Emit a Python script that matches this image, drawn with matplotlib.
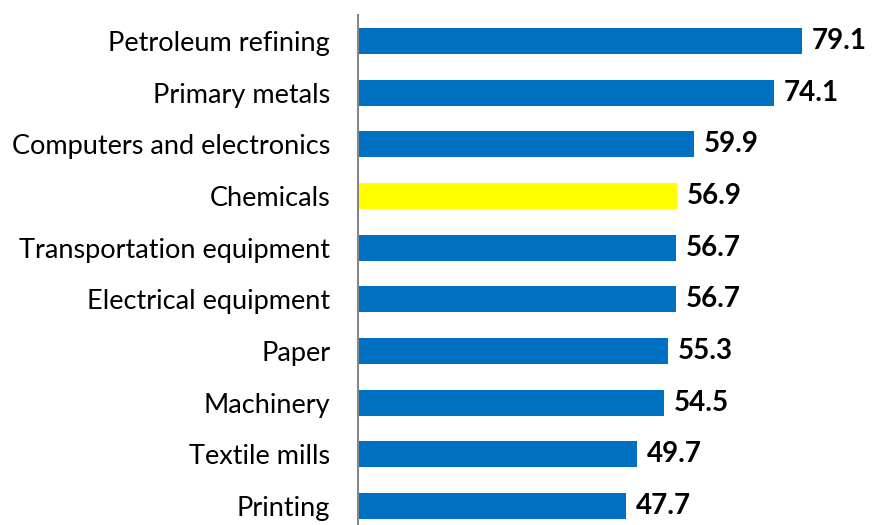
import matplotlib.pyplot as plt

industries = ['Petroleum refining', 'Primary metals', 'Computers and electronics',
              'Chemicals', 'Transportation equipment', 'Electrical equipment',
              'Paper', 'Machinery', 'Textile mills', 'Printing']
values = [79.1, 74.1, 59.9, 56.9, 56.7, 56.7, 55.3, 54.5, 49.7, 47.7]
highlight = 'Chemicals'

plt.rcParams['font.family'] = ['Lato', 'DejaVu Sans']

fig = plt.figure(figsize=(8.74, 5.25), dpi=100)
ax = fig.add_axes([0.4096, -0.013, 0.5904, 0.984])

colors = ['#FFFF00' if name == highlight else '#0070C0' for name in industries]
pos = list(range(len(industries)))
ax.barh(pos, values, height=0.5, color=colors)

for y, v in zip(pos, values):
    ax.annotate(f'{v:.1f}', xy=(v, y), xytext=(7, 0), textcoords='offset points',
                va='center', ha='left', fontsize=20, fontweight='bold')

ax.set_yticks(pos)
ax.set_yticklabels(industries, fontsize=19.5)
ax.tick_params(axis='y', length=0, pad=20)
ax.set_xticks([])
ax.set_xlim(0, 91.9)
ax.set_ylim(len(industries) - 0.5, -0.5)

for side in ['top', 'right', 'bottom']:
    ax.spines[side].set_visible(False)
ax.spines['left'].set_color('#868686')
ax.spines['left'].set_linewidth(1.5)

fig.savefig('out.png', dpi=100)
